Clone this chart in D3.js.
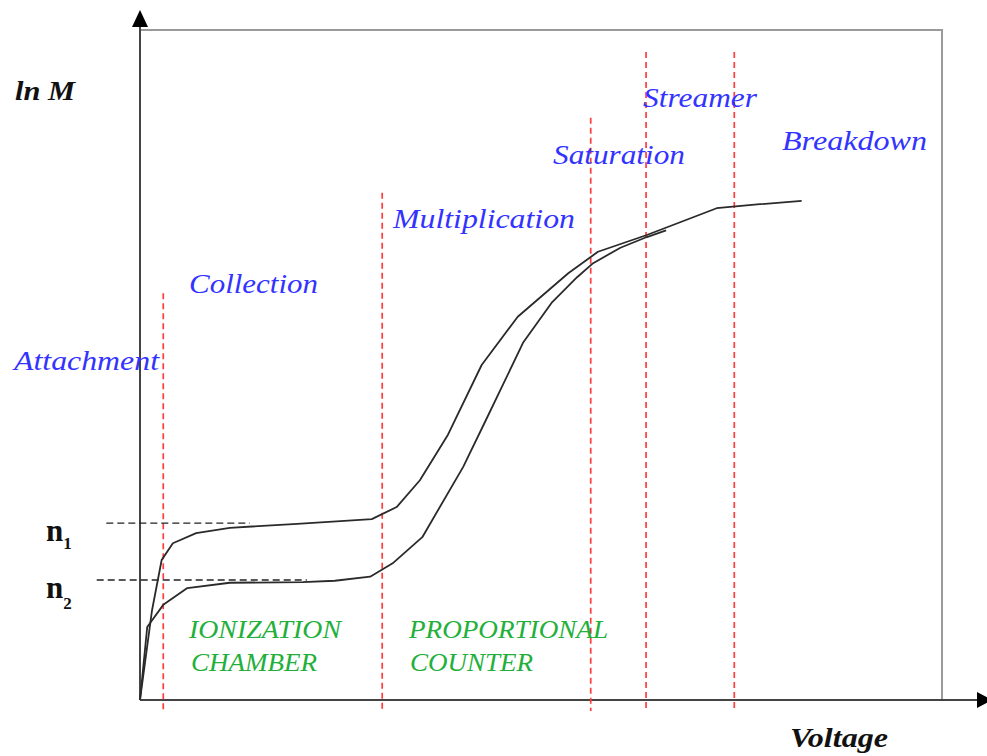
<!DOCTYPE html>
<html><head><meta charset="utf-8">
<script src="https://cdn.jsdelivr.net/npm/d3@7"></script>
<style>html,body{margin:0;padding:0;background:#fff}svg{display:block}</style>
</head><body>
<svg id="c" width="987" height="756"></svg>
<script>
// ---- data (voltage units 0..100, ln M units 0..100) ----
const upperV = [0, 1.5, 2.7, 4.1, 7.0, 11.2, 19.6, 28.9, 32.0, 34.9, 38.4, 42.6, 47.1, 53.4, 57.1, 63.2, 71.9, 77.3, 82.5];
const upperM = [0, 13.4, 20.9, 23.4, 24.9, 25.7, 26.3, 27.0, 28.8, 32.8, 39.6, 50.0, 57.2, 63.7, 66.9, 69.4, 73.4, 74.0, 74.5];
const lowerV = [0, 0.9, 2.9, 5.9, 11.2, 20.3, 24.3, 28.7, 31.5, 35.2, 40.3, 43.3, 47.8, 51.4, 54.5, 56.5, 59.9, 63.2, 65.6];
const lowerM = [0, 10.9, 14.2, 16.7, 17.5, 17.6, 17.8, 18.4, 20.4, 24.3, 34.8, 42.2, 53.4, 59.4, 63.1, 65.2, 67.5, 69.1, 70.1];
const boundaryV = [2.9, 30.2, 56.2, 63.1, 74.1];
const boundaryTop = [60.7, 75.7, 86.9, 96.7, 96.7];
const levelNames = ["n1", "n2"];
const levelM = [26.4, 17.9];
const levelFrom = [-4.2, -5.4];
const levelTo = [13.7, 20.8];
const regionNames = ["Attachment", "Collection", "Multiplication", "Saturation", "Streamer", "Breakdown"];
const detectorNames = [["IONIZATION", "CHAMBER"], ["PROPORTIONAL", "COUNTER"]];
const axisTitles = ["Voltage", "ln M"];

// ---- layout ----
const svg = d3.select("#c");
const x = d3.scaleLinear().domain([0, 100]).range([140, 942]);
const y = d3.scaleLinear().domain([0, 100]).range([700, 30]);
const serif = "'Liberation Serif','Times New Roman',serif";

// frame (top & right, gray)
svg.append("path").attr("d", `M${x(0)},${y(100)}H${x(100)}V${y(0)}`)
  .attr("fill", "none").attr("stroke", "#9a9a9a").attr("stroke-width", 2);

// axes
svg.append("line").attr("x1", x(0)).attr("y1", y(0)).attr("x2", x(0)).attr("y2", 22)
  .attr("stroke", "#444").attr("stroke-width", 2);
svg.append("path").attr("d", `M${x(0)},10 L${x(0)-8},27 L${x(0)+8},27Z`).attr("fill", "#000");
svg.append("line").attr("x1", x(0)).attr("y1", y(0)).attr("x2", 980).attr("y2", y(0))
  .attr("stroke", "#444").attr("stroke-width", 2);
svg.append("path").attr("d", `M992,${y(0)} L977,${y(0)-8} L977,${y(0)+8}Z`).attr("fill", "#000");

// region boundaries (red dashed)
svg.selectAll("line.b").data(boundaryV).join("line").attr("class", "b")
  .attr("x1", d => x(d)).attr("x2", d => x(d))
  .attr("y1", (d, i) => y(boundaryTop[i])).attr("y2", 711)
  .attr("stroke", "#ff3d3d").attr("stroke-width", 1.7).attr("stroke-dasharray", "6,4");

// level dashed lines
svg.selectAll("line.l").data(levelM).join("line").attr("class", "l")
  .attr("x1", (d, i) => x(levelFrom[i])).attr("x2", (d, i) => x(levelTo[i]))
  .attr("y1", d => y(d)).attr("y2", d => y(d))
  .attr("stroke", "#222").attr("stroke-width", 1.4).attr("stroke-dasharray", "7,4");

// curves
const line = d3.line().x(d => x(d[0])).y(d => y(d[1]));
[[upperV, upperM], [lowerV, lowerM]].forEach(([vs, ms]) => {
  svg.append("path").datum(vs.map((v, i) => [v, ms[i]])).attr("d", line)
    .attr("fill", "none").attr("stroke", "#2a2a2a").attr("stroke-width", 1.8)
    .attr("stroke-linejoin", "round");
});

// region labels (blue italic)
const regionPos = [[14, 370, 145], [189, 293, 129], [393, 228, 182], [553, 164, 132], [643, 107, 114], [782, 150, 145]];
regionNames.forEach((t, i) => {
  const [px, py, w] = regionPos[i];
  svg.append("text").attr("x", px).attr("y", py).text(t)
    .attr("font-family", serif).attr("font-style", "italic").attr("font-size", 27)
    .attr("fill", "#3333ff").attr("textLength", w).attr("lengthAdjust", "spacingAndGlyphs");
});

// detector labels (green italic caps)
const detPos = [[[189, 638, 152], [191, 671, 126]], [[409, 638, 199], [410, 671, 123]]];
detectorNames.forEach((lines, i) => lines.forEach((t, j) => {
  const [px, py, w] = detPos[i][j];
  svg.append("text").attr("x", px).attr("y", py).text(t)
    .attr("font-family", serif).attr("font-style", "italic").attr("font-size", 25)
    .attr("fill", "#22b03a").attr("textLength", w).attr("lengthAdjust", "spacingAndGlyphs");
}));

// axis titles
svg.append("text").attr("x", 790).attr("y", 747).text(axisTitles[0])
  .attr("font-family", serif).attr("font-style", "italic").attr("font-weight", "bold")
  .attr("font-size", 28).attr("fill", "#111").attr("textLength", 98).attr("lengthAdjust", "spacingAndGlyphs");
svg.append("text").attr("x", 15).attr("y", 100).text(axisTitles[1])
  .attr("font-family", serif).attr("font-style", "italic").attr("font-weight", "bold")
  .attr("font-size", 28).attr("fill", "#111").attr("textLength", 60).attr("lengthAdjust", "spacingAndGlyphs");

// level labels n1, n2
const levelLabelY = [541, 598];
const subDy = [8, 11];
levelNames.forEach((t, i) => {
  const tx = svg.append("text").attr("x", 46).attr("y", levelLabelY[i])
    .attr("font-family", serif).attr("font-weight", "bold").attr("font-size", 31).attr("fill", "#111");
  tx.append("tspan").text(t[0]);
  tx.append("tspan").text(t.slice(1)).attr("font-size", 17).attr("dy", subDy[i]);
});
</script>
</body></html>
